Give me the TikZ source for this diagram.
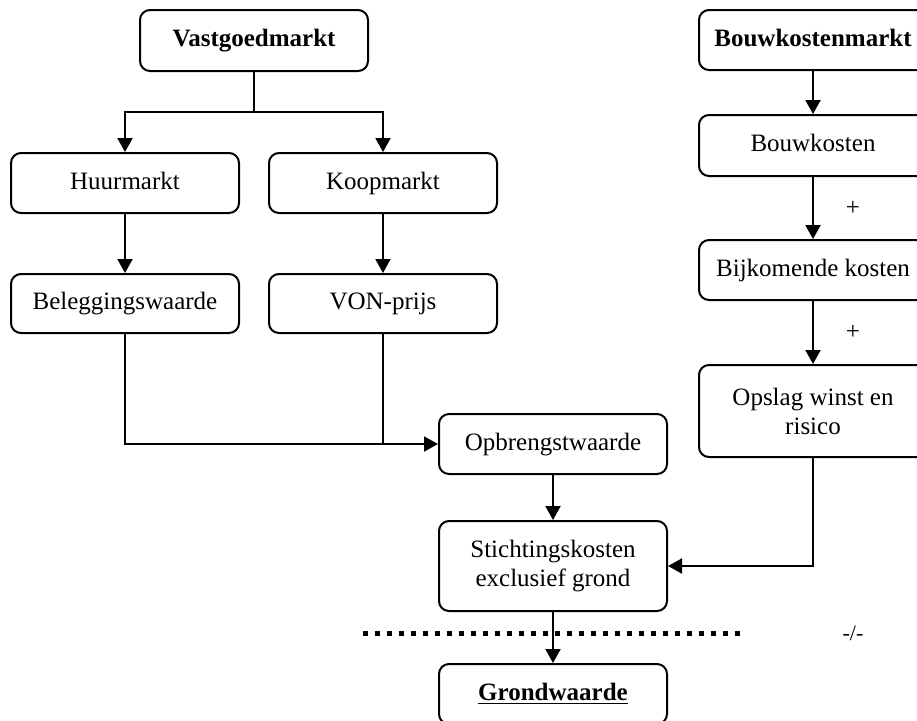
\documentclass[tikz,border=0pt]{standalone}
\usepackage{fontspec}
\setmainfont{Liberation Serif}
\usetikzlibrary{arrows.meta}
\tikzset{
  box/.style={draw, line width=1pt, rounded corners=5pt, inner sep=0pt,
    minimum width=114pt, align=center, font=\fontsize{12.5}{14.5}\selectfont},
  one/.style={text height=8.8pt, text depth=2.8pt},
  arr/.style={line width=1pt, -{Triangle[length=7pt,width=7.5pt]}},
  conn/.style={line width=1pt},
  plus/.style={font=\fontsize{12.5}{14.5}\selectfont, inner sep=0pt},
  dots/.style={line width=2.5pt, dash pattern=on 2.5pt off 3.5pt}
}
\begin{document}
\begin{tikzpicture}[x=0.5pt,y=-0.5pt]
\fill[white] (0,0) rectangle (917,720);
\clip (0,0) rectangle (917,720);
% left part
\node[box, one, minimum height=30.5pt] (V) at (254,40.5) {\textbf{Vastgoedmarkt}};
\node[box, one, minimum height=30pt] (H) at (125,183) {Huurmarkt};
\node[box, one, minimum height=30pt] (K) at (383,183) {Koopmarkt};
\node[box, one, minimum height=29.5pt] (B) at (125,303.5) {Beleggingswaarde};
\node[box, one, minimum height=29.5pt] (VP) at (383,303.5) {VON-prijs};
\node[box, one, minimum height=30pt] (O) at (553,444) {Opbrengstwaarde};
\node[box, minimum height=45pt] (S) at (553,566) {Stichtingskosten\\exclusief grond};
\node[box, one, minimum height=30pt] (G) at (553,694) {\underline{\textbf{Grondwaarde}}};
% right column
\node[box, one, minimum height=30pt] (Bkm) at (813,40) {\textbf{Bouwkostenmarkt}};
\node[box, one, minimum height=30.5pt] (Bk) at (813,145.5) {Bouwkosten};
\node[box, one, minimum height=30pt] (Bij) at (813,270) {Bijkomende kosten};
\node[box, minimum height=46pt] (Ops) at (813,411) {Opslag winst en\\risico};
% connectors
\coordinate (split) at (254,112);
\draw[conn] (V) -- (split);
\draw[arr] (split) -| (H);
\draw[arr] (split) -| (K);
\draw[arr] (H) -- (B);
\draw[arr] (K) -- (VP);
\draw[arr] (B) |- (O);
\coordinate (join) at (VP.south |- O.west);
\draw[conn] (VP) -- (join);
\draw[arr] (O) -- (S);
\draw[arr] (Bkm) -- (Bk);
\draw[arr] (Bk) -- (Bij) node[plus, pos=0.5, xshift=20pt] (p1) {+};
\draw[arr] (Bij) -- (Ops) node[plus, pos=0.5, xshift=20pt] (p2) {+};
\draw[arr] (Ops) |- (S);
% dotted line
\coordinate (dl) at (363,633);
\coordinate (dr) at (742,633);
\draw[dots] (dl) -- (dr);
\node[font=\fontsize{11}{13}\selectfont, inner sep=0pt] (minus) at (853,633) {-/-};
\draw[arr] (S) -- (G);
\end{tikzpicture}
\end{document}
